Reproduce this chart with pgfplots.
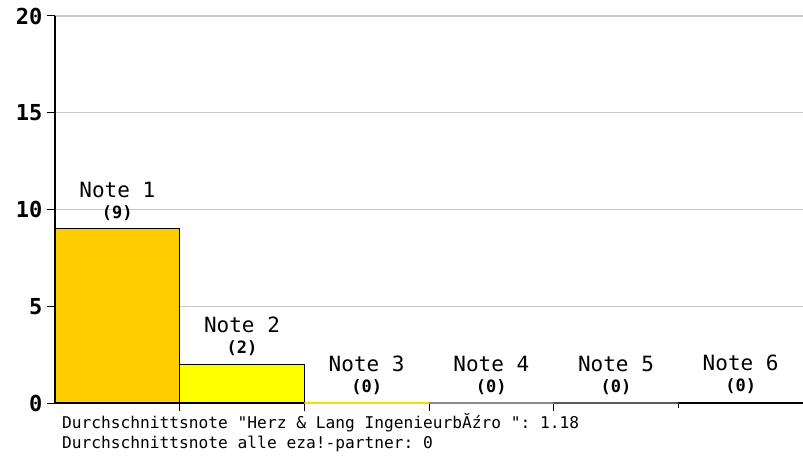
\documentclass[border=0pt]{standalone}
\usepackage{pgfplots}
\pgfplotsset{compat=1.18}
\usepackage{fontspec}
\setmainfont{DejaVu Sans Mono}
\setmonofont{DejaVu Sans Mono}
\definecolor{nA}{HTML}{FFCC00}
\definecolor{nB}{HTML}{FFFF00}
\definecolor{nC}{HTML}{F0E000}
\definecolor{nD}{HTML}{8C8C8C}
\definecolor{nE}{HTML}{5A5A5A}
\definecolor{nF}{HTML}{000000}
\definecolor{gridc}{HTML}{C8C8C8}
\pgfplotsset{
  notelabel/.style={
    nodes near coords={#1},
    every node near coord/.style={align=center, anchor=south, inner sep=0pt, yshift=8pt,
      font=\fontsize{21}{22}\selectfont, text=black},
  },
}
\begin{document}
\begin{tikzpicture}[x=1pt,y=1pt]
\useasboundingbox (0,0) rectangle (803,461);
\begin{axis}[
  at={(55pt,58pt)}, anchor=south west,
  scale only axis, width=748pt, height=387pt,
  xmin=0, xmax=6, ymin=0, ymax=20,
  axis x line=bottom, axis y line=left,
  axis line style={-},
  x axis line style={draw=black!70, line width=1.2pt},
  y axis line style={draw=black, line width=1.2pt},
  ytick={0,5,10,15,20},
  xtick={1,2,3,4,5}, xticklabels={},
  tick align=outside, major tick length=8pt,
  ytick style={black, line width=1pt},
  xtick style={black, line width=1pt, shorten <=3.5pt},
  ymajorgrids, grid style={draw=gridc, line width=1.3pt},
  /pgf/number format/assume math mode=true,
  yticklabel style={font=\fontsize{22}{22}\selectfont\bfseries, xshift=-1pt},
  clip=false,
]
\addplot[ybar, bar width=1, bar shift=0, fill=nA, draw=black, line width=1.2pt,
  notelabel={Note 1\\[-1pt]{\fontsize{17}{17}\selectfont\bfseries (9)}}]
  coordinates {(0.5,9)};
\addplot[ybar, bar width=1, bar shift=0, fill=nB, draw=black, line width=1.2pt,
  notelabel={Note 2\\[-1pt]{\fontsize{17}{17}\selectfont\bfseries (2)}}]
  coordinates {(1.5,2)};
\addplot[ybar, bar width=1, bar shift=0, fill=nC, draw=nC, line width=1.5pt,
  notelabel={Note 3\\[-1pt]{\fontsize{17}{17}\selectfont\bfseries (0)}}]
  coordinates {(2.5,0)};
\addplot[ybar, bar width=1, bar shift=0, fill=nD, draw=nD, line width=1.5pt,
  notelabel={Note 4\\[-1pt]{\fontsize{17}{17}\selectfont\bfseries (0)}}]
  coordinates {(3.5,0)};
\addplot[ybar, bar width=1, bar shift=0, fill=nE, draw=nE, line width=1.5pt,
  notelabel={Note 5\\[-1pt]{\fontsize{17}{17}\selectfont\bfseries (0)}}]
  coordinates {(4.5,0)};
\addplot[ybar, bar width=1, bar shift=0, fill=nF, draw=nF, line width=2pt,
  notelabel={Note 6\\[-1pt]{\fontsize{17}{17}\selectfont\bfseries (0)}}]
  coordinates {(5.5,0)};
\end{axis}
\node[anchor=base west, inner sep=0pt, font=\ttfamily\fontsize{16.2}{16}\selectfont] at (62,33)
  {Durchschnittsnote "Herz \& Lang IngenieurbĂźro ": 1.18};
\node[anchor=base west, inner sep=0pt, font=\ttfamily\fontsize{16.2}{16}\selectfont] at (62,13)
  {Durchschnittsnote alle eza!-partner: 0};
\end{tikzpicture}
\end{document}
